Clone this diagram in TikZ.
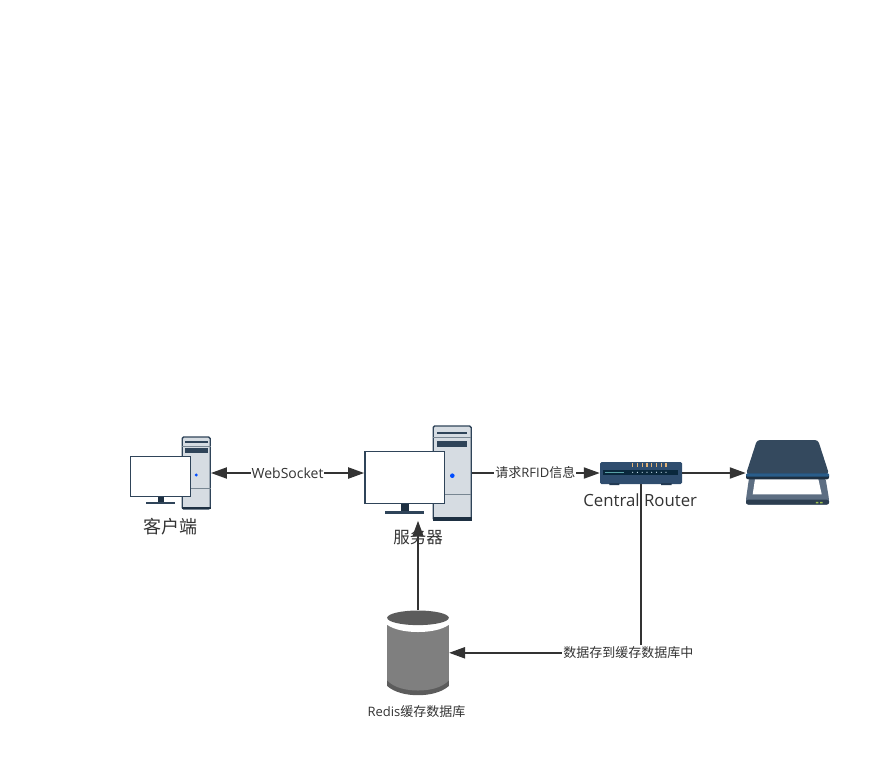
\documentclass[tikz,border=0pt]{standalone}
\usepackage{fontspec}
\setmainfont{Open Sans}
\newfontfamily\cjk{Noto Sans CJK SC}
\usetikzlibrary{arrows.meta,calc,positioning}
\definecolor{devdark}{RGB}{47,68,89}
\definecolor{devdeep}{RGB}{30,48,66}
\definecolor{devpale}{RGB}{214,220,226}
\definecolor{devline}{RGB}{120,134,146}
\definecolor{routerblue}{RGB}{47,77,110}
\definecolor{routerslot}{RGB}{10,40,60}
\definecolor{routerled}{RGB}{88,160,165}
\definecolor{routerpin}{RGB}{226,178,118}
\definecolor{scanlid}{RGB}{52,73,94}
\definecolor{scanband}{RGB}{42,93,138}
\definecolor{scanbase}{RGB}{93,110,130}
\definecolor{dbgray}{RGB}{127,127,127}
\definecolor{dbdark}{RGB}{92,92,92}
\definecolor{wire}{RGB}{51,51,51}
\tikzset{
  towerbox/.style={draw=devdark,line width=1.4pt,fill=devpale,rounded corners=1.5pt,inner sep=0pt},
  screenbox/.style={draw=devdark,line width=1.3pt,fill=white,inner sep=0pt},
  ghostbox/.style={inner sep=0pt},
  wirearrow/.style={draw=wire,line width=2pt,-{Triangle[length=16pt,width=11pt]}},
  wiretext/.style={fill=white,text=wire,inner sep=1pt,font=\fontsize{13}{15}\selectfont},
  devtext/.style={text=wire,inner sep=0pt,font=\fontsize{16.5}{19}\selectfont},
}
\begin{document}
\begin{tikzpicture}[x=1pt,y=-1pt]
    \useasboundingbox (0,0) rectangle (890,756);
    \node[towerbox,minimum width=28pt,minimum height=72pt] (clienttower) at (196.2,473) {};
    \fill[devdark] (184.5,440.7) rectangle (207.5,443.3);
    \draw[devline,line width=.8pt] (182,446) -- (210.5,446);
    \fill[devdark] (184.5,448.3) rectangle (207.5,452.7);
    \fill[blue!70!cyan] (196.3,475) circle[radius=1.6pt];
    \draw[devline,line width=.8pt] (182,488.3) -- (210.5,488.3);
    \fill[devdeep] (181.7,507) rectangle (210.7,509.3);
    \fill[devdeep] (157.7,496) rectangle (164,503);
    \fill[devdark] (146,502) rectangle (175,504);
    \node[screenbox,minimum width=60pt,minimum height=40pt] (clientscreen) at (160.5,476.2) {};
    \node[devtext,font=\fontsize{18}{20}\selectfont] (clientlabel) at (170,527) {\cjk 客户端};

    \node[towerbox,minimum width=38pt,minimum height=94pt] (servertower) at (452.2,473) {};
    \fill[devdark] (437.3,431.7) rectangle (466.7,434.3);
    \draw[devline,line width=.8pt] (433.2,437.3) -- (471.2,437.3);
    \fill[devdark] (437.3,441.3) rectangle (467,446.7);
    \fill[blue!70!cyan] (452.3,475.7) circle[radius=2.3pt];
    \draw[devline,line width=.8pt] (433.2,494) -- (471.2,494);
    \fill[devdeep] (432.7,517) rectangle (471.7,520.7);
    \fill[devdeep] (400.7,504) rectangle (409,512);
    \fill[devdark] (385,511.3) rectangle (424,514);
    \node[screenbox,minimum width=79.5pt,minimum height=52.5pt] (serverscreen) at (404.6,477.5) {};
    \node[devtext] (serverlabel) at (418,537.3) {\cjk 服务器};

    \node[ghostbox,fill=routerblue,rounded corners=1.5pt,minimum width=82pt,minimum height=22pt] (router) at (641,473) {};
    \fill[routerblue!75!black] (609.3,483) rectangle (619.3,485.2) (661,483) rectangle (671.7,485.2);
    \fill[routerslot] (602.7,469.7) rectangle (678.3,475.3);
    \fill[routerled] (605,471.5) rectangle (624,472.7);
    \foreach \px in {632.7,637.4,642.2,647,651.7,656.5,661.2,666} {
      \fill[routerpin] (\px-.7,462.7) rectangle (\px+.7,466.7);
      \fill[white!85!cyan] (\px,472.3) circle[radius=.6pt];
    }
    \node[devtext,font=\fontsize{16.8}{19}\selectfont] (routerlabel) at (640.2,500) {Central Router};

    \node[ghostbox,minimum width=83pt,minimum height=64pt] (scanner) at (787.5,473) {};
    \fill[scanbase,rounded corners=2.5pt] (749,478) -- (825.5,478) -- (829,499) -- (829,504.5) -- (746,504.5) -- (746,499) -- cycle;
    \fill[scanlid!85!black,rounded corners=2pt] (746,499.7) rectangle (829,504.5);
    \fill[white] (755,479) -- (818.3,479) -- (821.7,494.3) -- (752.7,494.3) -- cycle;
    \fill[yellow!60!green!70!gray] (815.8,501.8) rectangle (818.4,503.4) (820,501.8) rectangle (822.6,503.4);
    \fill[scanlid,rounded corners=3pt] (757,440) -- (818,440) -- (829,474) -- (746,474) -- cycle;
    \fill[devdeep,rounded corners=2pt] (746,473.5) rectangle (829,479.3);
    \fill[scanband,rounded corners=1.2pt] (746,473.3) rectangle (829,476.7);

    \node[ghostbox,minimum width=61.6pt,minimum height=84.6pt] (redisdb) at (418,652.8) {};
    \fill[dbdark] (387.2,617.7) -- (387.2,686) .. controls (394.5,692.5) and (406.5,695.2) .. (418,695.2) .. controls (429.5,695.2) and (441.5,692.5) .. (448.8,686) -- (448.8,617.7) -- cycle;
    \fill[dbgray] (387.2,617.7) -- (387.2,680.5) .. controls (394.5,688) and (406.5,690.5) .. (418,690.5) .. controls (429.5,690.5) and (441.5,688) .. (448.8,680.5) -- (448.8,617.7) -- cycle;
    \fill[white] (387.2,617.7) -- (387.2,624.8) .. controls (394.5,630) and (406.5,632) .. (418,632) .. controls (429.5,632) and (441.5,630) .. (448.8,624.8) -- (448.8,617.7) -- cycle;
    \fill[dbdark] (418,617.8) ellipse[x radius=30.8pt,y radius=7.3pt];
    \node[text=wire,inner sep=0pt,font=\fontsize{13}{15}\selectfont] (redislabel) at (416.5,711.5) {Redis{\cjk 缓存数据库}};

    \draw[wirearrow,{Triangle[length=16pt,width=11pt]}-{Triangle[length=16pt,width=11pt]}] (clienttower.east) -- (clienttower.east -| serverscreen.west) node[midway,wiretext,font=\fontsize{14}{15}\selectfont] (wslabel) {WebSocket};
    \draw[wirearrow] (servertower.east) -- (router.west) node[pos=.5,wiretext,xshift=-.5pt] (rfidlabel) {{\cjk 请求}RFID{\cjk 信息}};
    \draw[wirearrow] (router.east) -- (router.east -| scanner.west);
    \draw[wirearrow] (redisdb.north) -- (redisdb.north |- servertower.south);
    \draw[wirearrow] (router.south) |- (redisdb.east) node[pos=.533,wiretext,yshift=.5pt] (cachelabel) {\cjk 数据存到缓存数据库中};
  \end{tikzpicture}
\end{document}
